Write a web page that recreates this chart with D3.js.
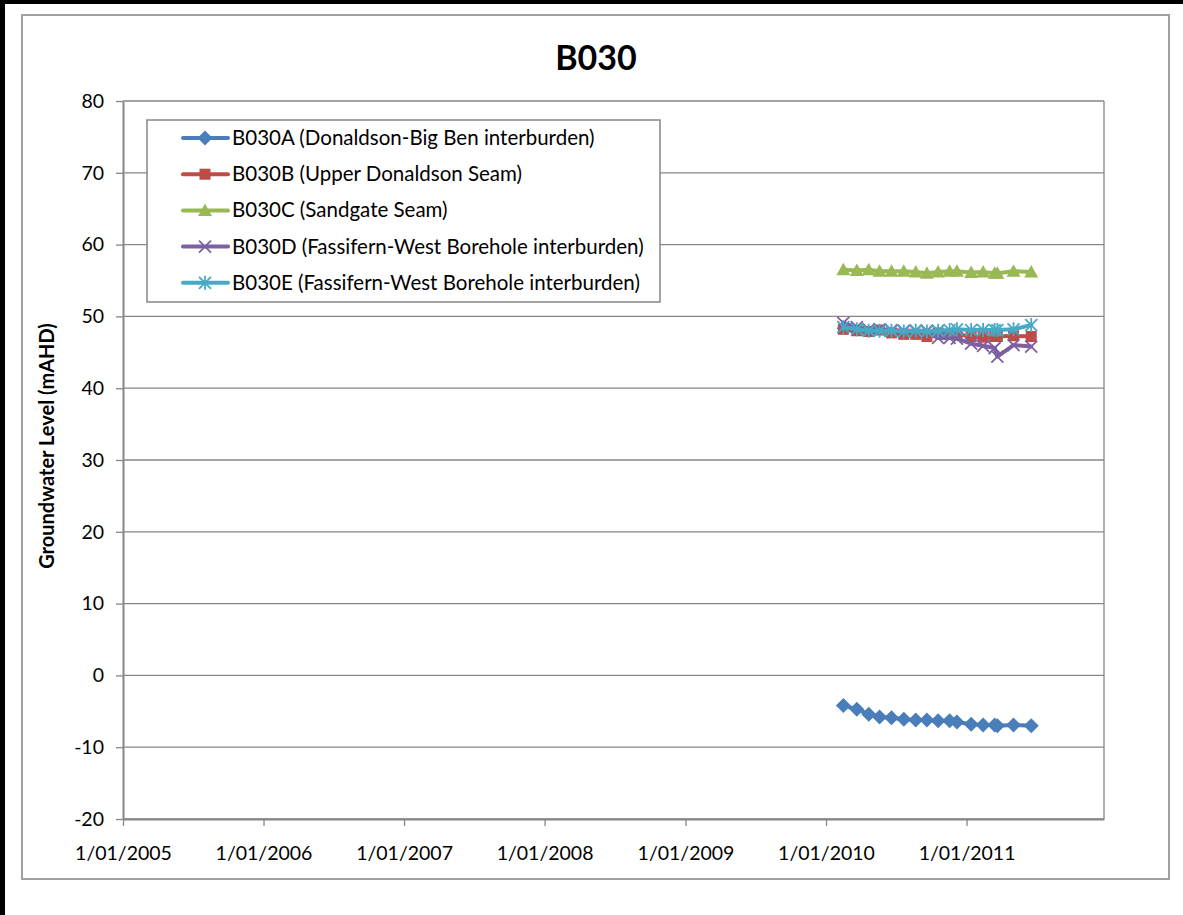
<!DOCTYPE html>
<html><head><meta charset="utf-8">
<script src="https://cdn.jsdelivr.net/npm/d3@7"></script>
<style>body{margin:0;background:#fff;overflow:hidden} text{font-family:Lato,"Open Sans",sans-serif}</style>
</head><body><svg id="c" width="1183" height="915"></svg>
<script>
const dates = ["2010-02-15","2010-03-22","2010-04-22","2010-05-20","2010-06-20","2010-07-22","2010-08-22","2010-09-20","2010-10-19","2010-11-18","2010-12-07","2011-01-13","2011-02-13","2011-03-15","2011-03-22","2011-05-03","2011-06-18"];
const seriesNames = ["B030A (Donaldson-Big Ben interburden)","B030B (Upper Donaldson Seam)","B030C (Sandgate Seam)","B030D (Fassifern-West Borehole interburden)","B030E (Fassifern-West Borehole interburden)"];
const valuesA = [-4.2,-4.7,-5.4,-5.8,-5.9,-6.1,-6.2,-6.2,-6.3,-6.3,-6.5,-6.8,-6.9,-6.9,-7.0,-6.9,-7.0];
const valuesB = [48.2,48.0,47.9,48.1,47.7,47.5,47.5,47.2,47.7,47.5,47.5,47.2,47.1,47.2,47.2,47.3,47.2];
const valuesC = [56.5,56.4,56.5,56.3,56.3,56.3,56.2,56.0,56.2,56.3,56.3,56.1,56.2,56.0,56.0,56.3,56.2];
const valuesD = [49.1,48.5,48.2,48.2,48.1,48.0,48.0,48.0,47.0,47.0,46.9,46.2,45.9,45.6,44.4,46.0,45.8];
const valuesE = [48.5,48.2,48.0,48.0,48.0,47.9,48.0,47.9,48.0,48.1,48.2,48.1,48.1,48.1,48.1,48.2,48.8];
const yTicks = [-20,-10,0,10,20,30,40,50,60,70,80];
const xTickYears = [2005,2006,2007,2008,2009,2010,2011];
const colors = ["#4A7EBB","#BE4B48","#98B954","#7D60A0","#46AAC5"];
const markers = ["diamond","square","triangle","x","star"];

const parse = d3.timeParse("%Y-%m-%d");
const allValues = [valuesA,valuesB,valuesC,valuesD,valuesE];
const series = seriesNames.map((n,i)=>({name:n,color:colors[i],marker:markers[i],
  pts:dates.map((d,j)=>({date:parse(d),v:allValues[i][j]}))}));

const svg = d3.select("#c");
const L=123,R=1104,T=101,B=819;
const x = d3.scaleTime().domain([new Date(2005,0,1), new Date(2011,11,24)]).range([L,R]);
const y = d3.scaleLinear().domain([-20,80]).range([B,T]);

svg.append("rect").attr("x",0).attr("y",0).attr("width",1183).attr("height",915).attr("fill","#fff");
svg.append("rect").attr("x",22).attr("y",15).attr("width",1147).attr("height",864).attr("fill","none").attr("stroke","#a0a0a0").attr("stroke-width",2);
svg.append("rect").attr("x",0).attr("y",0).attr("width",5).attr("height",915).attr("fill","#000");
svg.append("rect").attr("x",0).attr("y",0).attr("width",1183).attr("height",4).attr("fill","#000");

svg.append("g").selectAll("line").data(yTicks).join("line")
  .attr("x1",L).attr("x2",R).attr("y1",d=>y(d)).attr("y2",d=>y(d))
  .attr("stroke","#868686").attr("stroke-width",1.3);
svg.append("line").attr("x1",R).attr("x2",R).attr("y1",T).attr("y2",B).attr("stroke","#868686").attr("stroke-width",1.3);

const yAxis = d3.axisLeft(y).tickValues(yTicks).tickSize(7).tickSizeOuter(0).tickPadding(12).tickFormat(d=>String(d));
const gy = svg.append("g").attr("transform",`translate(${L},0)`).call(yAxis);
const xAxis = d3.axisBottom(x).tickValues(xTickYears.map(yr=>new Date(yr,0,1))).tickSize(7).tickSizeOuter(0).tickPadding(20)
  .tickFormat(d=>"1/01/"+d.getFullYear());
const gx = svg.append("g").attr("transform",`translate(0,${B})`).call(xAxis);
[gx,gy].forEach(g=>{
  g.select(".domain").attr("stroke","#868686").attr("stroke-width",2);
  g.selectAll(".tick line").attr("stroke","#868686").attr("stroke-width",1.3);
  g.selectAll("text").attr("font-size",19.5).attr("fill","#000").style("font-family","Lato");
});

svg.append("text").attr("x",596).attr("y",70).attr("text-anchor","middle").attr("font-size",34).attr("font-weight","bold").text("B030");
svg.append("text").attr("transform","translate(54,446) rotate(-90)").attr("text-anchor","middle").attr("font-size",20).attr("font-weight","bold").text("Groundwater Level (mAHD)");

function drawMarker(g,type,color){
  if(type==="diamond") g.append("path").attr("d","M0,-7.5L7.5,0L0,7.5L-7.5,0Z").attr("fill",color);
  else if(type==="square") g.append("rect").attr("x",-5.5).attr("y",-5.5).attr("width",11).attr("height",11).attr("fill",color);
  else if(type==="triangle") g.append("path").attr("d","M0,-7L7,5.5L-7,5.5Z").attr("fill",color);
  else if(type==="x") g.append("path").attr("d","M-6,-6L6,6M-6,6L6,-6").attr("stroke",color).attr("stroke-width",1.8).attr("fill","none");
  else if(type==="star") g.append("path").attr("d","M-6,-6L6,6M-6,6L6,-6M0,-7L0,7").attr("stroke",color).attr("stroke-width",1.8).attr("fill","none");
}

const line = d3.line().x(d=>x(d.date)).y(d=>y(d.v));
series.forEach(s=>{
  const g = svg.append("g");
  g.append("path").datum(s.pts).attr("d",line).attr("fill","none").attr("stroke",s.color).attr("stroke-width",4).attr("stroke-linejoin","round").attr("stroke-linecap","round");
  s.pts.forEach(p=>{
    const mg = g.append("g").attr("transform",`translate(${x(p.date)},${y(p.v)})`);
    drawMarker(mg,s.marker,s.color);
  });
});

const lg = svg.append("g");
lg.append("rect").attr("x",147).attr("y",120).attr("width",513).attr("height",182).attr("fill","#fff").attr("stroke","#868686").attr("stroke-width",1.5);
series.forEach((s,i)=>{
  const yy = 138 + i*36.2;
  lg.append("line").attr("x1",183).attr("x2",228).attr("y1",yy).attr("y2",yy).attr("stroke",s.color).attr("stroke-width",4).attr("stroke-linecap","round");
  drawMarker(lg.append("g").attr("transform",`translate(205,${yy})`),s.marker,s.color);
  lg.append("text").attr("x",232).attr("y",yy+7).attr("font-size",20.5).text(s.name);
});
</script></body></html>
